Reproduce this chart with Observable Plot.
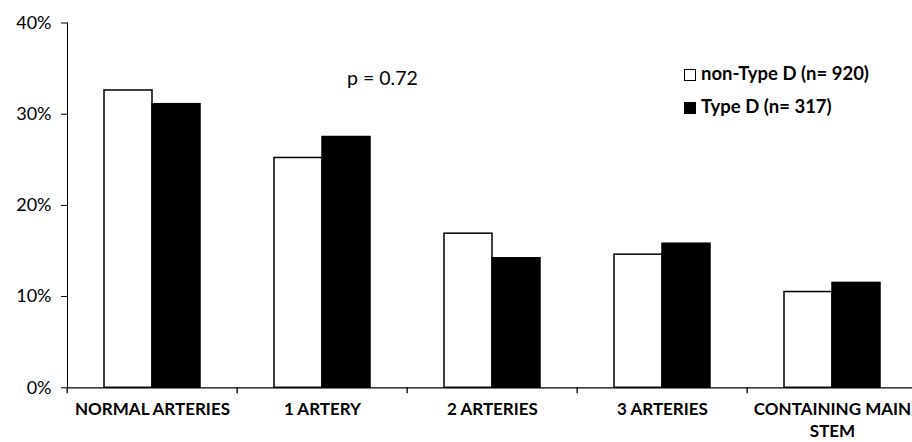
<!DOCTYPE html>
<html>
<head>
<meta charset="utf-8">
<script src="https://cdn.jsdelivr.net/npm/d3@7"></script>
<script src="https://cdn.jsdelivr.net/npm/@observablehq/plot@0.6"></script>
<style>
  html, body { margin: 0; padding: 0; background: #fff; overflow: hidden; }
  #wrap { position: relative; width: 912px; height: 442px; font-family: Lato, "Open Sans", sans-serif; }
  #wrap svg { position: absolute; left: 0; top: 0; }
  #pval { position: absolute; left: 347px; top: 66px; font-size: 19.5px; line-height: 24px; color: #000; z-index: 2; }
  #legend { position: absolute; left: 684px; top: 57px; font-size: 18.5px; font-weight: bold; color: #000; line-height: 33px; z-index: 2; }
  #legend .sw { display: inline-block; width: 12px; height: 12px; margin-right: 5px; vertical-align: -1px; box-sizing: border-box; border: 1.3px solid #000; }
</style>
</head>
<body>
<div id="wrap"><div id="pval"></div><div id="legend"></div></div>
<script>
const categories = ["NORMAL ARTERIES", "1 ARTERY", "2 ARTERIES", "3 ARTERIES", "CONTAINING MAIN STEM"];
const categoryLabels = ["NORMAL ARTERIES", "1 ARTERY", "2 ARTERIES", "3 ARTERIES", "CONTAINING MAIN\nSTEM"];
const seriesNames = ["non-Type D (n= 920)", "Type D (n= 317)"];
const seriesColors = ["#ffffff", "#000000"];
const nonTypeD = [32.6, 25.2, 16.9, 14.6, 10.5];
const typeD = [31.1, 27.5, 14.2, 15.8, 11.5];
const yTicks = [0, 10, 20, 30, 40];
const pText = "p = 0.72";

const rows = [];
categories.forEach((c, i) => {
  rows.push({cat: c, series: seriesNames[0], value: nonTypeD[i]});
  rows.push({cat: c, series: seriesNames[1], value: typeD[i]});
});

const W = 912, H = 442, mL = 65, mR = -6.5;
const step = (W - mL - mR) / categories.length;

const chart = Plot.plot({
  width: W, height: H,
  marginLeft: mL, marginRight: mR, marginTop: 22.5, marginBottom: 54.7,
  style: {fontFamily: "Lato, 'Open Sans', sans-serif", fontSize: "18px", color: "#000", background: "transparent", overflow: "visible"},
  fx: {domain: categories, padding: 0, label: null, axis: null},
  x: {domain: seriesNames, paddingInner: 0, paddingOuter: 0.742, axis: null},
  y: {domain: [0, 40], ticks: yTicks, tickFormat: d => d + "%", tickSize: 6, tickPadding: 10, line: true, label: null},
  color: {domain: seriesNames, range: seriesColors},
  marks: [
    Plot.barY(rows, {fx: "cat", x: "series", y: "value", fill: "series", stroke: "#000", strokeWidth: 1.5}),
    Plot.ruleY([0], {stroke: "#000", strokeWidth: 1.3}),
    Plot.axisFx({anchor: "bottom", ticks: categories, tickSize: 6, dx: -step / 2, text: null, stroke: "#000", strokeWidth: 1.3, label: null}),
    Plot.axisFx({anchor: "bottom", ticks: categories, tickSize: 0, tickPadding: 11, tickFormat: d => categoryLabels[categories.indexOf(d)], fontSize: 17, fontWeight: "bold", lineHeight: 1.3, label: null})
  ]
});

document.getElementById("wrap").appendChild(chart);
document.getElementById("pval").textContent = pText;
document.getElementById("legend").innerHTML = seriesNames.map((s, i) =>
  `<div><span class="sw" style="background:${seriesColors[i]}"></span>${s}</div>`).join("");
</script>
</body>
</html>
